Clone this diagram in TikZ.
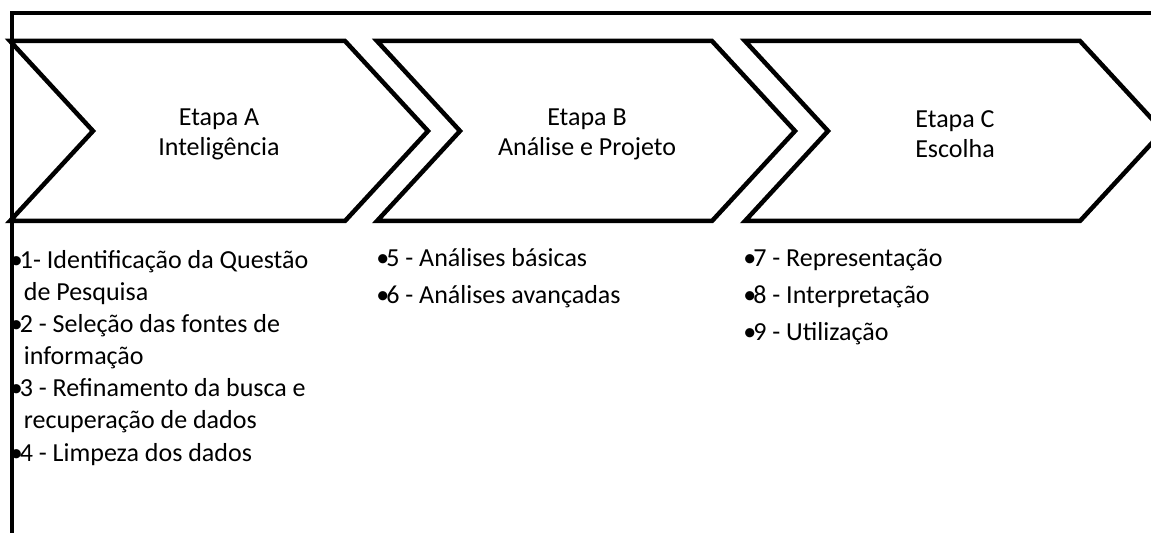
\documentclass[tikz,border=0pt]{standalone}
\usepackage{fontspec}
\setmainfont{Carlito}
\newcommand{\bul}{\makebox[0.14cm]{•}}
\newcommand{\cont}{\hspace*{0.22cm}}
\begin{document}
\begin{tikzpicture}[x=0.02cm,y=-0.02cm,
  etapa/.style={draw=black,line width=0.09cm},
  titulo/.style={align=center,inner sep=0pt,font=\fontsize{14.8}{17}\selectfont},
  lista/.style={anchor=base west,align=left,inner sep=0pt,font=\fontsize{14.8}{18.3}\selectfont},
  listalarga/.style={lista,font=\fontsize{14.8}{21}\selectfont}]
\useasboundingbox (0,0) rectangle (1151,533);
\clip (0,0) rectangle (1151,533);
\draw[line width=0.08cm] (12,533) -- (12,13) -- (1151,13);

\draw[etapa] (10,41) -- (345,41) -- (428,131) -- (345,221) -- (10,221) -- (93,131) -- cycle;
\draw[etapa] (377,41) -- (712,41) -- (795,131) -- (712,221) -- (377,221) -- (460,131) -- cycle;
\draw[etapa] (745,41) -- (1080,41) -- (1163,131) -- (1080,221) -- (745,221) -- (828,131) -- cycle;

\node[titulo] (etapaA) at (219,134) {Etapa A\\Inteligência};
\node[titulo] (etapaB) at (587,134) {Etapa B\\Análise e Projeto};
\node[titulo] (etapaC) at (955,134) {Etapa C\\Escolha};

% base = baseline of the last line
\node[lista] (listaA) at (12.5,461) {\bul1- Identificação da Questão\\\cont de Pesquisa\\\bul2 - Seleção das fontes de\\\cont informação\\\bul3 - Refinamento da busca e\\\cont recuperação de dados\\\bul4 - Limpeza dos dados};
\node[listalarga] (listaB) at (379,303) {\bul5 - Análises básicas\\\bul6 - Análises avançadas};
\node[listalarga] (listaC) at (746,340) {\bul7 - Representação\\\bul8 - Interpretação\\\bul9 - Utilização};
\end{tikzpicture}
\end{document}
